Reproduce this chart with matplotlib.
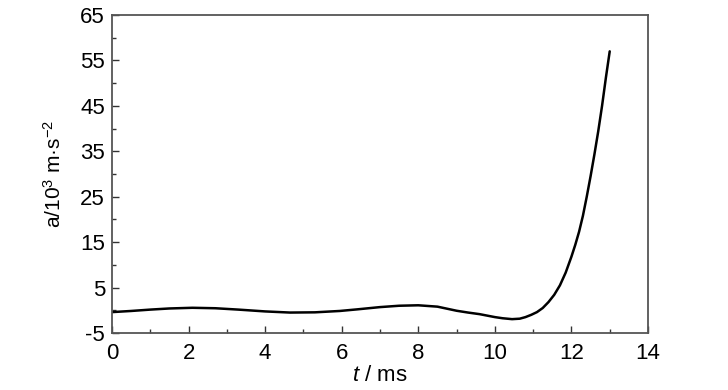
import matplotlib
matplotlib.use("Agg")
import matplotlib.pyplot as plt
from matplotlib.ticker import MultipleLocator, FixedLocator

fam = 'Liberation Sans'
plt.rcParams['font.family'] = [fam, 'DejaVu Sans']
plt.rcParams['axes.unicode_minus'] = False
plt.rcParams['mathtext.fontset'] = 'custom'
plt.rcParams['mathtext.rm'] = fam
plt.rcParams['mathtext.it'] = fam + ':italic'

t = [0.0, 0.5, 1.0, 1.5, 2.1, 2.7, 3.3, 4.0, 4.65, 5.3, 5.95, 6.4, 7.0, 7.5, 8.0, 8.5,
     9.0, 9.3, 9.6, 10.0, 10.2, 10.45, 10.65, 10.8, 10.95, 11.1, 11.25, 11.4, 11.55,
     11.7, 11.85, 12.0, 12.1, 12.2, 12.3, 12.4, 12.5, 12.6, 12.7, 12.8, 12.9, 13.0]
a = [-0.4, -0.15, 0.15, 0.4, 0.55, 0.45, 0.15, -0.25, -0.5, -0.45, -0.15, 0.2, 0.7, 1.0, 1.1, 0.8,
     -0.1, -0.5, -0.85, -1.5, -1.75, -1.95, -1.85, -1.5, -1.0, -0.4, 0.5, 1.8, 3.4,
     5.5, 8.3, 11.8, 14.4, 17.3, 20.8, 25.0, 29.5, 34.3, 39.4, 45.0, 51.2, 57.0]

xticks = [0, 2, 4, 6, 8, 10, 12, 14]
yticks = [-5, 5, 15, 25, 35, 45, 55, 65]

fig = plt.figure(figsize=(7.28, 3.9), dpi=100)
ax = fig.add_axes([112/728, 57/390, 536/728, 318/390])
ax.plot(t, a, color='black', lw=1.8, solid_capstyle='round', solid_joinstyle='round')

ax.set_xlim(0, 14)
ax.set_ylim(-5, 65)
ax.xaxis.set_major_locator(FixedLocator(xticks))
ax.yaxis.set_major_locator(FixedLocator(yticks))
ax.xaxis.set_minor_locator(MultipleLocator(1))
ax.yaxis.set_minor_locator(FixedLocator(list(range(0, 65, 10))))
ax.tick_params(which='both', direction='in', top=False, right=False,
               labelsize=16, colors='#333333', labelcolor='black')
ax.tick_params(which='major', length=5, width=1.0)
ax.tick_params(axis='x', which='major', pad=7)
ax.tick_params(axis='y', which='major', pad=5)
ax.tick_params(which='minor', length=3, width=1.0)
for s in ax.spines.values():
    s.set_color('#555555')
    s.set_linewidth(1.3)

ax.set_xlabel(r'$\it{t}$ / ms', fontsize=16, labelpad=1)
ax.set_ylabel(r'a/10$^3$ m·s$^{\mathrm{-2}}$', fontsize=15, labelpad=11)

fig.savefig('out.png', dpi=100)
